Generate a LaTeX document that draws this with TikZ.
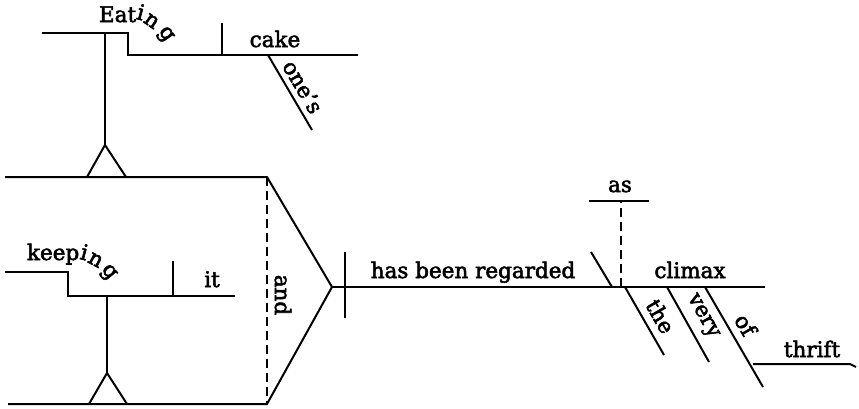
\documentclass[tikz,border=0pt]{standalone}
\usepackage{fontspec}
\setmainfont{DejaVu Serif}[FakeBold=2.5]
\begin{document}
\begin{tikzpicture}[x=1pt,y=-1pt,
  ln/.style={line width=2pt, line cap=butt, line join=miter},
  dl/.style={line width=1.8pt, dash pattern=on 9pt off 5pt},
  lbl/.style={font=\fontsize{21.5}{24}\selectfont, inner sep=0pt, outer sep=0pt}]
\useasboundingbox (0,0) rectangle (859,408);
% ---- coordinates: upper subject (Eating one's cake)
\coordinate (e1) at (42,33);
\coordinate (e2) at (128,33);
\coordinate (e3) at (128,55);
\coordinate (e4) at (358,55);
\coordinate (ed1) at (222,23);
\coordinate (ed2) at (222,55);
\coordinate (o1) at (268,55);
\coordinate (o2) at (312,130);
\coordinate (es1) at (105,33);
\coordinate (es2) at (105,145);
\coordinate (et1) at (87,177);
\coordinate (et2) at (126,177);
% ---- compound subject frame
\coordinate (t0) at (5,177);
\coordinate (t1) at (267,177);
\coordinate (apex) at (332,287);
\coordinate (b1) at (267,404);
\coordinate (b0) at (8,404);
% ---- keeping it
\coordinate (k1) at (5,272);
\coordinate (k2) at (68,272);
\coordinate (k3) at (68,296);
\coordinate (k4) at (235,296);
\coordinate (kd1) at (173,261);
\coordinate (kd2) at (173,296);
\coordinate (ks1) at (107,296);
\coordinate (ks2) at (107,373);
\coordinate (kt1) at (89,404);
\coordinate (kt2) at (127,404);
% ---- predicate
\coordinate (m1) at (765,287);
\coordinate (sd1) at (345,252);
\coordinate (sd2) at (345,318);
\coordinate (oc1) at (591,252);
\coordinate (oc2) at (612,287);
\coordinate (as0) at (621,287);
\coordinate (as1) at (621,201);
\coordinate (asl) at (589,201);
\coordinate (asr) at (649,201);
\coordinate (th1) at (625,287);
\coordinate (th2) at (664,355);
\coordinate (v1) at (667,287);
\coordinate (v2) at (709,362);
\coordinate (of1) at (705,287);
\coordinate (of2) at (763,387);
\coordinate (tr1) at (753,364);
\coordinate (tr2) at (850,364);
\coordinate (tr3) at (856,367);
% ---- lines
\draw[ln] (e1) -- (e2) -- (e3) -- (e4);
\draw[ln] (ed1) -- (ed2);
\draw[ln] (o1) -- (o2);
\draw[ln] (es1) -- (es2);
\draw[ln] (et1) -- (es2) -- (et2);
\draw[ln] (t0) -- (t1) -- (apex) -- (b1) -- (b0);
\draw[dl] (t1) -- (b1);
\draw[ln] (k1) -- (k2) -- (k3) -- (k4);
\draw[ln] (kd1) -- (kd2);
\draw[ln] (ks1) -- (ks2);
\draw[ln] (kt1) -- (ks2) -- (kt2);
\draw[ln] (apex) -- (m1);
\draw[ln] (sd1) -- (sd2);
\draw[ln] (oc1) -- (oc2);
\draw[dl] (as0) -- (as1);
\draw[ln] (asl) -- (asr);
\draw[ln] (th1) -- (th2);
\draw[ln] (v1) -- (v2);
\draw[ln] (of1) -- (of2);
\draw[ln] (tr1) -- (tr2) -- (tr3);
% ---- texts
\node[lbl, anchor=base west] (eat) at (99,22) {Eat};
\node[lbl, rotate=-15] (ei) at (141,12) {i};
\node[lbl, rotate=-35] (en) at (151.5,21) {n};
\node[lbl, rotate=-55] (eg) at (165,35) {g};
\node[lbl, anchor=base] (cake) at (275,47) {cake};
\path (o1) -- (o2) node[lbl, sloped, above=6pt, pos=0.52] (ones) {one's};
\node[lbl, anchor=base west] (keep) at (27,260) {keep};
\node[lbl, rotate=-15] (ki) at (84.5,252) {i};
\node[lbl, rotate=-28] (kn) at (95.5,260) {n};
\node[lbl, rotate=-50] (kg) at (108,273) {g};
\node[lbl, anchor=base] (it) at (212,287) {it};
\node[lbl, rotate=-90] (and) at (283,295) {and};
\node[lbl, anchor=base] (hbr) at (473,278) {has been regarded};
\node[lbl, anchor=base] (as) at (620,192) {as};
\node[lbl, anchor=base] (climax) at (690,278) {climax};
\path (th1) -- (th2) node[lbl, sloped, above=8pt, pos=0.55] (the) {the};
\path (v1) -- (v2) node[lbl, sloped, above=8pt, pos=0.5] (very) {very};
\path (of1) -- (of2) node[lbl, sloped, above=8pt, pos=0.46] (of) {of};
\node[lbl, anchor=base] (thrift) at (812,357) {thrift};
\end{tikzpicture}
\end{document}
